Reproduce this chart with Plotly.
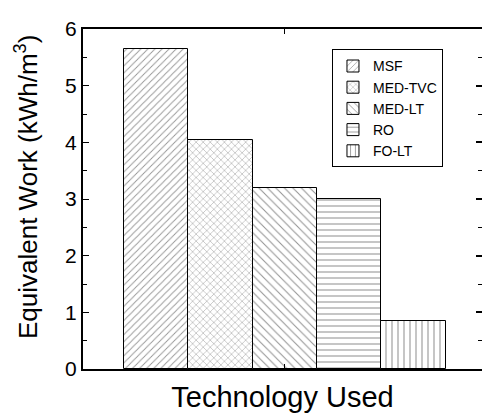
import plotly.graph_objects as go

# Equivalent work per desalination technology
technologies = ["MSF", "MED-TVC", "MED-LT", "RO", "FO-LT"]
equivalent_work = [5.64, 4.04, 3.19, 3.00, 0.84]
patterns = ["/", "x", "\\", "-", "|"]
pattern_sizes = [5, 5, 6, 6, 6]

y_ticks = [0, 1, 2, 3, 4, 5, 6]

font_family = "Liberation Sans, Arial, sans-serif"

fig = go.Figure()

for i, (name, val, pat, sz) in enumerate(zip(technologies, equivalent_work,
                                             patterns, pattern_sizes)):
    fig.add_trace(go.Bar(
        x=[i],
        y=[val],
        name=name,
        width=1.0,
        marker=dict(
            color="white",
            line=dict(color="black", width=1),
            pattern=dict(shape=pat, fgcolor="#2a2a2a", bgcolor="white",
                         size=sz, solidity=0.18, fillmode="overlay"),
        ),
    ))

# invisible trace so the right-hand tick axis is drawn
fig.add_trace(go.Scatter(x=[0], y=[0], xaxis="x", yaxis="y2", mode="markers",
                         marker=dict(opacity=0), showlegend=False,
                         hoverinfo="skip"))

fig.update_layout(
    width=484,
    height=414,
    margin=dict(l=83, r=2, t=29, b=45),
    paper_bgcolor="white",
    plot_bgcolor="white",
    font=dict(family=font_family, color="black"),
    barmode="overlay",
    bargap=0,
    xaxis=dict(
        range=[-1.13, 5.06],
        tickvals=[2],
        showticklabels=False,
        ticks="inside",
        ticklen=5,
        tickcolor="black",
        showline=True,
        linecolor="black",
        linewidth=2,
        mirror="ticks",
        showgrid=False,
        zeroline=False,
        title=dict(text="Technology Used", font=dict(size=29), standoff=17),
    ),
    yaxis=dict(
        range=[0, 6],
        tickvals=y_ticks,
        ticks="inside",
        ticklen=6,
        tickcolor="black",
        tickfont=dict(size=21),
        minor=dict(dtick=0.5, ticks="inside", ticklen=4, tickcolor="black"),
        showline=True,
        linecolor="black",
        linewidth=2,
        showgrid=False,
        zeroline=False,
    ),
    yaxis2=dict(
        range=[0, 6],
        overlaying="y",
        anchor="x",
        side="right",
        tickvals=y_ticks,
        ticks="inside",
        ticklen=6,
        tickwidth=2,
        tickcolor="black",
        showticklabels=False,
        minor=dict(dtick=0.5, ticks="inside", ticklen=4, tickwidth=1,
                   tickcolor="black"),
        showline=False,
        showgrid=False,
        zeroline=False,
    ),
    legend=dict(
        x=0.624, y=0.94,
        xanchor="left", yanchor="top",
        bgcolor="white",
        bordercolor="black",
        borderwidth=1,
        font=dict(size=14),
        tracegroupgap=0,
        itemwidth=30,
    ),
    showlegend=True,
)

# vertical axis title
fig.add_annotation(
    text="Equivalent Work (kWh/m<sup>3</sup>)",
    textangle=-90,
    xref="paper", yref="paper",
    x=-0.143, y=0.535,
    xanchor="center", yanchor="middle",
    showarrow=False,
    font=dict(size=26, family=font_family, color="black"),
)

fig.write_html("out.html")
